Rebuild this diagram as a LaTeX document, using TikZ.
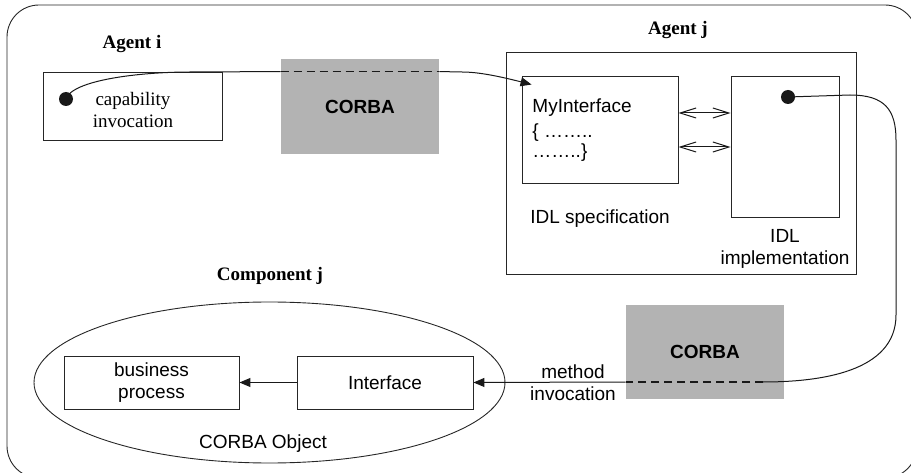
\documentclass[tikz,border=0pt]{standalone}
\usepackage{fontspec}
\setmainfont{Liberation Serif}
\setsansfont{Liberation Sans}
\usetikzlibrary{arrows.meta,calc,shapes.geometric}
\definecolor{corbagray}{HTML}{B3B3B3}
\begin{document}
\begin{tikzpicture}[x=1pt,y=-1pt,line width=0.9pt,
  box/.style={draw=black!85,inner sep=0pt},
  corbabox/.style={fill=corbagray,inner sep=0pt,font=\fontsize{19}{22}\selectfont\sffamily\bfseries},
  sanstext/.style={inner sep=0pt,font=\fontsize{19}{22}\selectfont\sffamily,align=center},
  seriftext/.style={inner sep=0pt,font=\fontsize{19}{22}\selectfont\rmfamily,align=center},
  titletext/.style={inner sep=0pt,font=\fontsize{19}{22}\selectfont\rmfamily\bfseries},
  dotc/.style={circle,fill=black!90,inner sep=0pt,minimum size=14pt},
  link/.style={line width=1pt,black!90},
  dashlink/.style={line width=1.6pt,black!90,dash pattern=on 8pt off 5pt},
  filltip/.style={-{Triangle[length=11pt,width=9pt]}},
  barb/.style={{Straight Barb[length=16pt,width=10pt]}-{Straight Barb[length=16pt,width=10pt]}}
]
\useasboundingbox (0,0) rectangle (911,473);
\clip (0,0) rectangle (911,473);
% outer frame (partly outside the page)
\draw[black!85,rounded corners=32pt] (7,5) rectangle (917,478);

% Agent i
\node[titletext] (agenti) at (132,44) {Agent i};
\node[box,minimum width=179pt,minimum height=68pt] (cap) at (132.5,106) {};
\node[seriftext] (captext) at (133,110) {capability\\invocation};
\node[dotc] (d1) at (66,99) {};

% CORBA 1
\node[corbabox,minimum width=158pt,minimum height=95pt] (c1) at (360,106.5) {CORBA};

% Agent j
\node[titletext] (agentj) at (678,30) {Agent j};
\node[box,minimum width=350pt,minimum height=222pt] (aj) at (681,163) {};
\node[box,minimum width=156pt,minimum height=107pt] (spec) at (600,129.5) {};
\node[sanstext,anchor=base west] (mi1) at (532,113) {MyInterface};
\node[sanstext,anchor=base west] (mi2) at (532,138) {\{ ……..};
\node[sanstext,anchor=base west] (mi3) at (532,158) {……..\}};
\node[sanstext] (idlspec) at (600,219) {IDL specification};
\node[box,minimum width=108pt,minimum height=141pt] (impl) at (785,146.5) {};
\node[sanstext] (idlimpl) at (785,249) {IDL\\implementation};
\node[dotc] (d2) at (788,97) {};

\draw[link,barb] (spec.east |- 0,113) -- (impl.west |- 0,113);
\draw[link,barb] (spec.east |- 0,147) -- (impl.west |- 0,147);

% CORBA 2
\node[corbabox,minimum width=158pt,minimum height=94pt] (c2) at (705,352) {};
\node[inner sep=0pt,font=\fontsize{19}{22}\selectfont\sffamily\bfseries] (c2text) at (705,352) {CORBA};

% Component j
\node[titletext] (compj) at (270,276) {Component j};
\node[draw=black!85,ellipse,minimum width=471pt,minimum height=161pt,inner sep=0pt] (obj) at (269.5,382.5) {};
\node[box,minimum width=175pt,minimum height=53pt,sanstext] (bp) at (151.5,382.5) {business\\process};
\node[box,minimum width=176pt,minimum height=53pt,sanstext] (iface) at (385,382.5) {Interface};
\node[sanstext] (corbaobj) at (263,444) {CORBA Object};
\node[sanstext] (meth) at (573,383) {method\\invocation};

\draw[link,filltip] (iface.west) -- (bp.east);

% upper invocation path
\coordinate (u1) at (c1.west |- cap.north);
\coordinate (u2) at (c1.east |- cap.north);
\coordinate (utip) at ($(spec.north west)+(10,9)$);
\draw[link] (d1.center) .. controls (72,80) and (140,72) .. (190,72) -- (u1);
\draw[dashlink] (u1) -- (u2);
\draw[link,filltip] (u2) -- (462,72) .. controls (478,72) and (498,76) .. (utip);

% lower invocation path
\coordinate (l1) at (763,382);
\coordinate (l2) at (c2.west |- l1);
\draw[link] (d2.center) -- (850,95) .. controls (885,95) and (896,110) .. (896,140) -- (896,315) .. controls (896,372) and (820,382) .. (l1);
\draw[dashlink] (l1) -- (l2);
\draw[link,filltip] (l2) -- (iface.east);
\end{tikzpicture}
\end{document}
